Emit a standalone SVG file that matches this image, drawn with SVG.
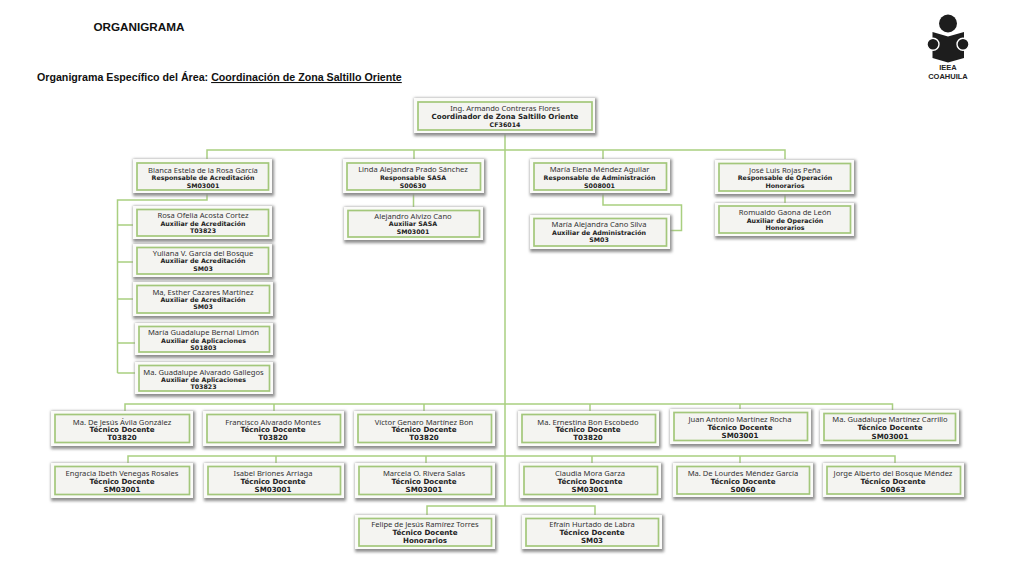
<svg xmlns="http://www.w3.org/2000/svg" width="1024" height="576" viewBox="0 0 1024 576">
<defs>
<filter id="s" x="-10%" y="-20%" width="120%" height="140%"><feGaussianBlur stdDeviation="1.6"/></filter>
</defs>
<style>
.sh{fill:#8f8f8f;filter:url(#s)}
.o{fill:#fbfbf9}
.i{fill:#f4f4f1;stroke:#a3c77b;stroke-width:1.7}
.c{fill:none;stroke:#a9cf80;stroke-width:1.5}
text{text-anchor:middle;fill:#333}
.n{font:7.6px "Noto Sans",sans-serif}
.b{font:bold 6.3px "DejaVu Sans",sans-serif;fill:#222}
.t{font:bold 7.1px "DejaVu Sans",sans-serif;fill:#222}
.h{font:bold 10.66px "Liberation Sans",sans-serif;fill:#111;text-anchor:start}
.l{font:bold 7.5px "Liberation Sans",sans-serif;fill:#222}
</style>
<text class="h" x="93.500" y="30.500" style="font-size:11.700px">ORGANIGRAMA</text>
<text class="h" x="37" y="81">Organigrama Específico del Área: <tspan text-decoration="underline">Coordinación de Zona Saltillo Oriente</tspan></text>
<g id="logo">
<circle cx="948" cy="23.500" r="9" fill="#1d1d1d"/>
<path d="M932.500 32L948 36.600L964 32V58L948 62.600L932.500 58Z" fill="#1d1d1d"/>
<circle cx="933" cy="44.300" r="6" fill="#1d1d1d" stroke="#fff" stroke-width="1.400"/>
<circle cx="963" cy="44.300" r="6" fill="#1d1d1d" stroke="#fff" stroke-width="1.400"/>
<text class="l" x="948" y="69.500">IEEA</text>
<text class="l" x="948" y="78.500">COAHUILA</text>
</g>
<g id="connectors" class="c">
<path d="M505 134V506"/>
<path d="M207 159V150H785V159M414 150V159M603 150V159"/>
<path d="M413.500 193V207M785 193V203"/>
<path d="M207 193V200H117.500V373M117.500 225H133M117.500 262H133M117.500 299H133M117.500 343H135M117.500 373H135"/>
<path d="M603 193V205H681.500V230.500H670"/>
<path d="M125 411V404H892.500V411M274 404V411M424 404V411M590 404V411M740 404V409"/>
<path d="M128 463V456H895V463M276 456V463M426 456V463M592 456V463M740 456V463"/>
<path d="M427 515V506H595V515"/>
</g>
<g id="n1"><rect class="sh" x="414" y="98" width="183" height="38"/><rect class="o" x="414" y="98" width="181" height="35"/><rect class="i" x="418" y="102" width="174" height="28"/><text class="n" x="505" y="111">Ing. Armando Contreras Flores</text><text class="t" x="505" y="119">Coordinador de Zona Saltillo Oriente</text><text class="b" x="505" y="127">CF36014</text></g>
<g id="n2"><rect class="sh" x="133" y="159" width="141" height="37"/><rect class="o" x="133" y="159" width="139" height="34"/><rect class="i" x="137" y="163" width="131.500" height="27"/><text class="n" x="203" y="172.500">Blanca Estela de la Rosa García</text><text class="b" x="203" y="180">Responsable de Acreditación</text><text class="b" x="203" y="187.500">SM03001</text></g>
<g id="n3"><rect class="sh" x="343" y="159" width="143" height="37"/><rect class="o" x="343" y="159" width="141" height="34"/><rect class="i" x="347" y="163" width="133.500" height="27"/><text class="n" x="413" y="172">Linda Alejandra Prado Sánchez</text><text class="b" x="413" y="180">Responsable SASA</text><text class="b" x="413" y="187.500">S00630</text></g>
<g id="n4"><rect class="sh" x="530" y="159" width="142" height="37"/><rect class="o" x="530" y="159" width="140" height="34"/><rect class="i" x="534" y="163" width="132.500" height="27"/><text class="n" x="599.500" y="172">María Elena Méndez Aguilar</text><text class="b" x="599.500" y="180">Responsable de Administración</text><text class="b" x="599.500" y="187.500">S008001</text></g>
<g id="n5"><rect class="sh" x="715" y="160" width="141" height="37"/><rect class="o" x="715" y="160" width="139" height="34"/><rect class="i" x="719" y="163.500" width="131.500" height="27.500"/><text class="n" x="785" y="172.500">José Luis Rojas Peña</text><text class="b" x="785" y="180">Responsable de Operación</text><text class="b" x="785" y="187.500">Honorarios</text></g>
<g id="n6"><rect class="sh" x="133" y="206" width="141" height="36"/><rect class="o" x="133" y="206" width="139" height="33"/><rect class="i" x="137" y="209.500" width="131.500" height="26.500"/><text class="n" x="203" y="218">Rosa Ofelia Acosta Cortez</text><text class="b" x="203" y="225.500">Auxiliar de Acreditación</text><text class="b" x="203" y="232.500">T03823</text></g>
<g id="n7"><rect class="sh" x="133" y="244" width="141" height="36"/><rect class="o" x="133" y="244" width="139" height="33"/><rect class="i" x="137" y="247.500" width="131.500" height="26.500"/><text class="n" x="203" y="255.500">Yuliana V.  García del Bosque</text><text class="b" x="203" y="263">Auxiliar de Acreditación</text><text class="b" x="203" y="270.500">SM03</text></g>
<g id="n8"><rect class="sh" x="133" y="282" width="142" height="37"/><rect class="o" x="133" y="282" width="140" height="34"/><rect class="i" x="137" y="285.500" width="132.500" height="27.500"/><text class="n" x="203" y="294.500">Ma, Esther Cazares Martínez</text><text class="b" x="203" y="302">Auxiliar de Acreditación</text><text class="b" x="203" y="309">SM03</text></g>
<g id="n9"><rect class="sh" x="135" y="323" width="140" height="35"/><rect class="o" x="135" y="323" width="138" height="32"/><rect class="i" x="139" y="326.500" width="130.500" height="25.500"/><text class="n" x="203.500" y="335">María Guadalupe Bernal Limón</text><text class="b" x="203.500" y="342.500">Auxiliar de Aplicaciones</text><text class="b" x="203.500" y="349.500">S01803</text></g>
<g id="n10"><rect class="sh" x="135" y="362" width="140" height="35"/><rect class="o" x="135" y="362" width="138" height="32"/><rect class="i" x="139" y="365.500" width="130.500" height="25.500"/><text class="n" x="203.500" y="375">Ma. Guadalupe Alvarado Gallegos</text><text class="b" x="203.500" y="382">Auxiliar de Aplicaciones</text><text class="b" x="203.500" y="389">T03823</text></g>
<g id="n11"><rect class="sh" x="344" y="207" width="141" height="36"/><rect class="o" x="344" y="207" width="139" height="33"/><rect class="i" x="348" y="210.500" width="131.500" height="26.500"/><text class="n" x="413" y="218.500">Alejandro Alvizo Cano</text><text class="b" x="413" y="226">Auxiliar SASA</text><text class="b" x="413" y="233.500">SM03001</text></g>
<g id="n12"><rect class="sh" x="530" y="215" width="142" height="37"/><rect class="o" x="530" y="215" width="140" height="34"/><rect class="i" x="534" y="218.500" width="132.500" height="27.500"/><text class="n" x="599" y="227">María Alejandra Cano Silva</text><text class="b" x="599" y="234.500">Auxiliar de Administración</text><text class="b" x="599" y="242">SM03</text></g>
<g id="n13"><rect class="sh" x="715" y="203" width="141" height="36"/><rect class="o" x="715" y="203" width="139" height="33"/><rect class="i" x="719" y="206" width="131.500" height="27"/><text class="n" x="785" y="215">Romualdo  Gaona de León</text><text class="b" x="785" y="222.500">Auxiliar de Operación</text><text class="b" x="785" y="229.500">Honorarios</text></g>
<g id="n14"><rect class="sh" x="51" y="411" width="144" height="38"/><rect class="o" x="51" y="411" width="142" height="35"/><rect class="i" x="55" y="414.500" width="134.500" height="28"/><text class="n" x="122" y="424.500">Ma. De Jesús Ávila González</text><text class="t" x="122" y="432">Técnico Docente</text><text class="t" x="122" y="440">T03820</text></g>
<g id="n15"><rect class="sh" x="203" y="411" width="143" height="38"/><rect class="o" x="203" y="411" width="141" height="35"/><rect class="i" x="207" y="414.500" width="133.500" height="28"/><text class="n" x="273" y="424.500">Francisco Alvarado Montes</text><text class="t" x="273" y="432">Técnico Docente</text><text class="t" x="273" y="440">T03820</text></g>
<g id="n16"><rect class="sh" x="354" y="411" width="143" height="38"/><rect class="o" x="354" y="411" width="141" height="35"/><rect class="i" x="358" y="414.500" width="133.500" height="28"/><text class="n" x="424" y="424.500">Víctor Genaro Martínez Bon</text><text class="t" x="424" y="432">Técnico Docente</text><text class="t" x="424" y="440">T03820</text></g>
<g id="n17"><rect class="sh" x="518" y="411" width="143" height="38"/><rect class="o" x="518" y="411" width="141" height="35"/><rect class="i" x="522" y="414.500" width="133.500" height="28"/><text class="n" x="588" y="424.500">Ma. Ernestina Bon Escobedo</text><text class="t" x="588" y="432">Técnico Docente</text><text class="t" x="588" y="440">T03820</text></g>
<g id="n18"><rect class="sh" x="670" y="409" width="143" height="38"/><rect class="o" x="670" y="409" width="141" height="35"/><rect class="i" x="674" y="412.500" width="133.500" height="28"/><text class="n" x="740" y="422">Juan Antonio Martínez Rocha</text><text class="t" x="740" y="430">Técnico Docente</text><text class="t" x="740" y="438">SM03001</text></g>
<g id="n19"><rect class="sh" x="820" y="410" width="141" height="37"/><rect class="o" x="820" y="410" width="139" height="34"/><rect class="i" x="824" y="413.500" width="131.500" height="27"/><text class="n" x="890" y="422">Ma. Guadalupe Martínez Carrillo</text><text class="t" x="890" y="430">Técnico Docente</text><text class="t" x="890" y="438.500">SM03001</text></g>
<g id="n20"><rect class="sh" x="51" y="463" width="144" height="38"/><rect class="o" x="51" y="463" width="142" height="35"/><rect class="i" x="55" y="466.500" width="134.500" height="28"/><text class="n" x="122" y="476">Engracia Ibeth Venegas Rosales</text><text class="t" x="122" y="484">Técnico Docente</text><text class="t" x="122" y="491.500">SM03001</text></g>
<g id="n21"><rect class="sh" x="204" y="463" width="142" height="38"/><rect class="o" x="204" y="463" width="140" height="35"/><rect class="i" x="208" y="466.500" width="132.500" height="28"/><text class="n" x="273" y="476">Isabel Briones Arriaga</text><text class="t" x="273" y="484">Técnico Docente</text><text class="t" x="273" y="491.500">SM03001</text></g>
<g id="n22"><rect class="sh" x="355" y="463" width="142" height="38"/><rect class="o" x="355" y="463" width="140" height="35"/><rect class="i" x="359" y="466.500" width="132.500" height="28"/><text class="n" x="424" y="476">Marcela O. Rivera Salas</text><text class="t" x="424" y="484">Técnico Docente</text><text class="t" x="424" y="491.500">SM03001</text></g>
<g id="n23"><rect class="sh" x="520" y="463" width="143" height="38"/><rect class="o" x="520" y="463" width="141" height="35"/><rect class="i" x="524" y="466.500" width="133.500" height="28"/><text class="n" x="590" y="476">Claudia Mora Garza</text><text class="t" x="590" y="484">Técnico Docente</text><text class="t" x="590" y="491.500">SM03001</text></g>
<g id="n24"><rect class="sh" x="673" y="463" width="142" height="37"/><rect class="o" x="673" y="463" width="140" height="34"/><rect class="i" x="677" y="466.500" width="132.500" height="27.500"/><text class="n" x="743" y="476">Ma. De Lourdes Méndez García</text><text class="t" x="743" y="484">Técnico Docente</text><text class="t" x="743" y="491.500">S0060</text></g>
<g id="n25"><rect class="sh" x="823" y="463" width="143" height="37"/><rect class="o" x="823" y="463" width="141" height="34"/><rect class="i" x="827" y="466.500" width="133.500" height="27.500"/><text class="n" x="893" y="476">Jorge Alberto del Bosque Méndez</text><text class="t" x="893" y="484">Técnico Docente</text><text class="t" x="893" y="491.500">S0063</text></g>
<g id="n26"><rect class="sh" x="355" y="515" width="142" height="37"/><rect class="o" x="355" y="515" width="140" height="34"/><rect class="i" x="359" y="518.500" width="132.500" height="27.500"/><text class="n" x="425" y="527">Felipe de Jesús Ramírez Torres</text><text class="t" x="425" y="535">Técnico Docente</text><text class="t" x="425" y="543">Honorarios</text></g>
<g id="n27"><rect class="sh" x="522" y="515" width="142" height="37"/><rect class="o" x="522" y="515" width="140" height="34"/><rect class="i" x="526" y="518.500" width="132.500" height="27.500"/><text class="n" x="592" y="527">Efraín Hurtado de Labra</text><text class="t" x="592" y="535">Técnico Docente</text><text class="t" x="592" y="543">SM03</text></g>
</svg>
